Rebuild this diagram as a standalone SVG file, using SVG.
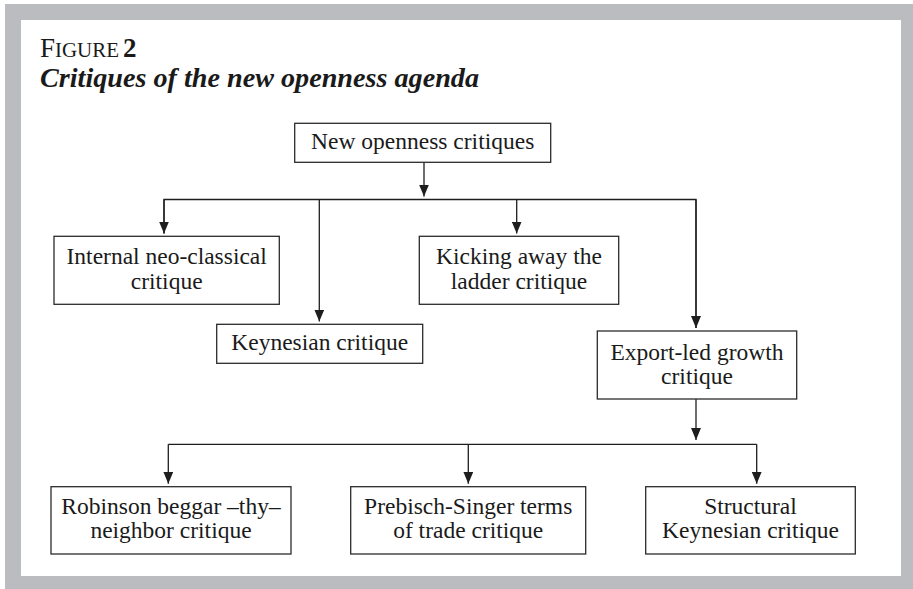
<svg xmlns="http://www.w3.org/2000/svg" width="913" height="589" viewBox="0 0 913 589">
<style>
.box{fill:#fff;stroke:#2b2b2b;stroke-width:1.3}
.t{font-family:"Liberation Serif","Times New Roman",serif;font-size:23.5px;fill:#1a1a1a;text-anchor:middle}
.c{fill:none;stroke:#1e1e1e;stroke-width:1.3}
.h{font-family:"Liberation Serif","Times New Roman",serif;fill:#1a1a1a}
</style>
<defs>
<marker id="ah" viewBox="0 0 12 10" markerWidth="12" markerHeight="10" refX="12" refY="5" orient="auto" markerUnits="userSpaceOnUse">
<path d="M0,0 L12,5 L0,10 z" fill="#1e1e1e"/>
</marker>
</defs>
<rect x="0" y="0" width="913" height="589" fill="#fff"/>
<rect x="5" y="4" width="908" height="585" fill="#bbbcc0"/>
<rect x="21" y="20" width="880" height="556" fill="#fff"/>
<g id="title">
<text class="h" x="40" y="56.7" font-size="27">F</text>
<text class="h" x="55" y="56.7" font-size="21" textLength="64" lengthAdjust="spacingAndGlyphs">IGURE</text>
<text class="h" x="123" y="56.7" font-size="27" font-weight="bold">2</text>
<text class="h" x="40" y="86.5" font-size="28" font-style="italic" font-weight="bold" textLength="439" lengthAdjust="spacingAndGlyphs">Critiques of the new openness agenda</text>
</g>
<g id="connectors">
<line class="c" x1="424" y1="162.3" x2="424" y2="196.5" marker-end="url(#ah)"/>
<polyline class="c" points="164,233.5 164,199.5 696,199.5 696,328"/>
<line class="c" x1="164" y1="199.5" x2="164" y2="233.5" marker-end="url(#ah)"/>
<line class="c" x1="319.3" y1="199.5" x2="319.3" y2="321.5" marker-end="url(#ah)"/>
<line class="c" x1="516.7" y1="199.5" x2="516.7" y2="233.5" marker-end="url(#ah)"/>
<line class="c" x1="696" y1="199.5" x2="696" y2="328" marker-end="url(#ah)"/>
<line class="c" x1="696" y1="399" x2="696" y2="440" marker-end="url(#ah)"/>
<polyline class="c" points="168.3,444.3 756.7,444.3"/>
<line class="c" x1="168.3" y1="444.3" x2="168.3" y2="483.7" marker-end="url(#ah)"/>
<line class="c" x1="468.3" y1="444.3" x2="468.3" y2="483.7" marker-end="url(#ah)"/>
<line class="c" x1="756.7" y1="444.3" x2="756.7" y2="483.7" marker-end="url(#ah)"/>
</g>
<g id="n-root">
<rect class="box" x="294.7" y="123.3" width="256" height="39"/>
<text class="t" x="422.7" y="148.5">New openness critiques</text>
</g>
<g id="n-internal">
<rect class="box" x="54" y="236.3" width="225.3" height="68"/>
<text class="t" x="166.7" y="264">Internal neo-classical</text>
<text class="t" x="166.7" y="288.5">critique</text>
</g>
<g id="n-keynesian">
<rect class="box" x="216.7" y="324.3" width="206" height="39"/>
<text class="t" x="319.7" y="350">Keynesian critique</text>
</g>
<g id="n-kicking">
<rect class="box" x="419.3" y="236.3" width="199.4" height="68"/>
<text class="t" x="519" y="264">Kicking away the</text>
<text class="t" x="519" y="288.5">ladder critique</text>
</g>
<g id="n-export">
<rect class="box" x="597.3" y="331" width="199.4" height="68"/>
<text class="t" x="697" y="359.5">Export-led growth</text>
<text class="t" x="697" y="384">critique</text>
</g>
<g id="n-robinson">
<rect class="box" x="51" y="486.7" width="240" height="67.3"/>
<text class="t" x="171" y="513.5">Robinson beggar –thy–</text>
<text class="t" x="171" y="538.3">neighbor critique</text>
</g>
<g id="n-prebisch">
<rect class="box" x="350.7" y="486.7" width="235" height="67.3"/>
<text class="t" x="468.2" y="513.5">Prebisch-Singer terms</text>
<text class="t" x="468.2" y="538.3">of trade critique</text>
</g>
<g id="n-structural">
<rect class="box" x="645.7" y="486.7" width="209.6" height="67.3"/>
<text class="t" x="750.5" y="513.5">Structural</text>
<text class="t" x="750.5" y="538.3">Keynesian critique</text>
</g>
</svg>
